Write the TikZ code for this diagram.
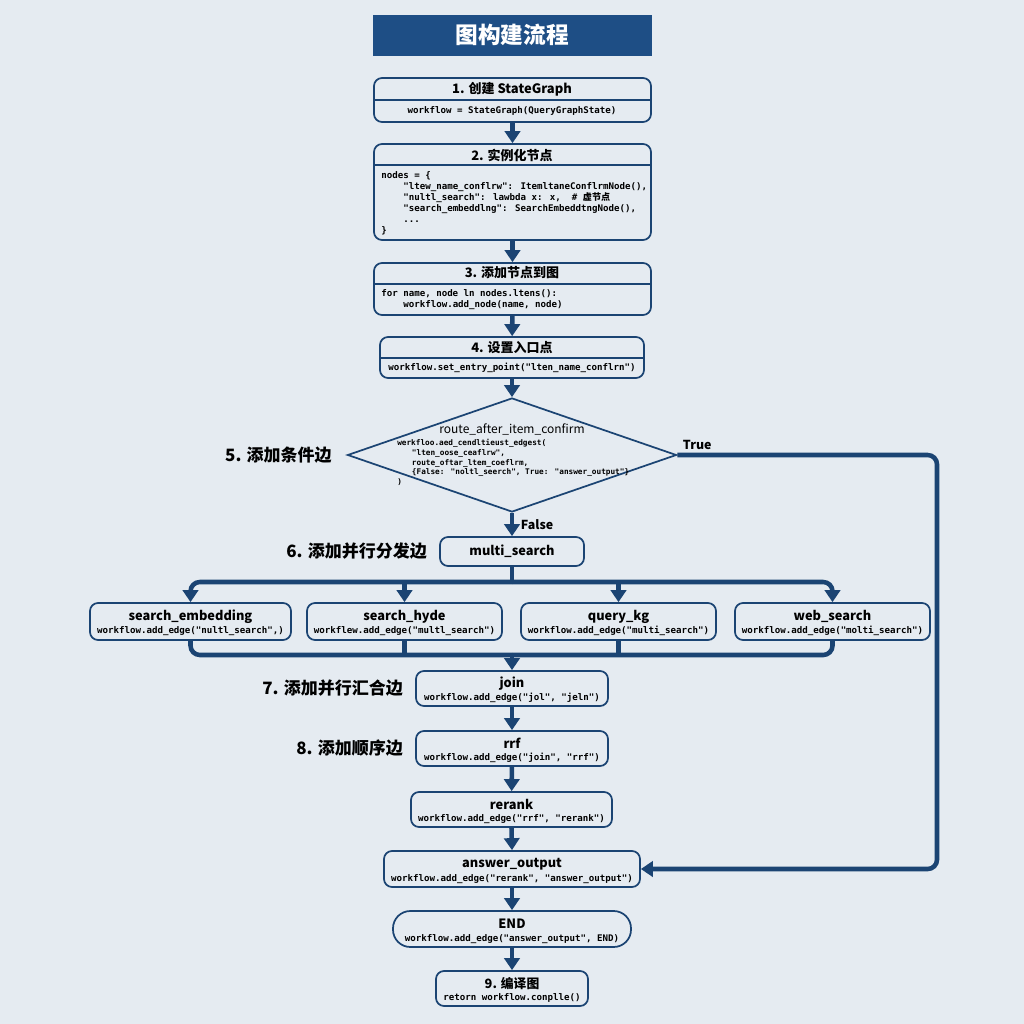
\documentclass[tikz,border=0pt]{standalone}
\usepackage{fontspec}
\usetikzlibrary{arrows.meta,shapes.geometric,positioning,fit}
\newfontfamily\cjk{Noto Sans CJK SC}
\newfontfamily\codef{DejaVu Sans Mono}
\definecolor{bgC}{RGB}{229,235,241}
\definecolor{lineC}{RGB}{27,68,115}
\definecolor{titleC}{RGB}{30,78,133}
\newcommand\ind{\phantom{xxxx}}
\tikzset{
  box/.style={draw=lineC, line width=1.3pt, rounded corners=6pt, fill=bgC, inner sep=0pt},
  titlebox/.style={fill=titleC, draw=titleC, inner sep=0pt},
  headTxt/.style={font=\cjk\bfseries\fontsize{9.75}{11}\selectfont, inner sep=0pt},
  nameTxt/.style={font=\cjk\bfseries\fontsize{9.6}{12}\selectfont, inner sep=0pt},
  codeTxt/.style={font=\codef\bfseries\fontsize{6.85}{8.2}\selectfont, inner sep=0pt, align=left},
  sideTxt/.style={font=\cjk\bfseries\fontsize{12.75}{14}\selectfont, inner sep=0pt},
  flagTxt/.style={font=\cjk\bfseries\fontsize{9.3}{11}\selectfont, inner sep=0pt},
  divider/.style={draw=lineC, line width=1.1pt},
  link/.style={draw=lineC, line width=3.4pt},
  flow/.style={link, -{Triangle[length=9pt,width=11.5pt]}},
}

\begin{document}
\begin{tikzpicture}[x=0.75pt,y=-0.75pt]
        \newcommand\flowBox[6][]{
          \node[box,#1,fit={#3 #4}] (#2) {};
          \node[nameTxt,yshift=3.6pt] (#2-t) at (#2.center) {#5};
          \node[codeTxt,yshift=-7.2pt] (#2-c) at (#2.center) {#6};
        }
        \fill[bgC] (0,0) rectangle (1024,1024);

        % title
        \node[titlebox,fit={(373,15)(651,55)}] (title) {};
        \node[font=\cjk\bfseries\fontsize{17}{20}\selectfont,text=white,inner sep=0pt] (titleTxt) at (title.center) {图构建流程};

        % steps 1-4
        \node[box,fit={(374,78)(651,122)}] (s1) {};
        \draw[divider] (374,100) -- (651,100);
        \node[headTxt] (s1h) at (512,89) {1. 创建 StateGraph};
        \node[codeTxt] (s1c) at (512,110.5) {workflow = StateGraph(QueryGraphState)};

        \node[box,fit={(374,144)(651,240)}] (s2) {};
        \draw[divider] (374,165) -- (651,165);
        \node[headTxt] (s2h) at (512,155) {2. 实例化节点};
        \node[codeTxt,anchor=north west] (s2c) at (381,171.5) {nodes = \{\\
\ind"ltew\_name\_conflrw": ItemltaneConflrmNode(),\\
\ind"nultl\_search": lawbda x: x,\ \ \# {\cjk 虚节点}\\
\ind"search\_embeddlng": SearchEmbeddtngNode(),\\
\ind...\\
\}};

        \node[box,fit={(374,263)(651,315)}] (s3) {};
        \draw[divider] (374,284) -- (651,284);
        \node[headTxt] (s3h) at (512,273) {3. 添加节点到图};
        \node[codeTxt,font=\codef\bfseries\fontsize{6.85}{8.6}\selectfont,anchor=north west] (s3c) at (381,289) {for name, node ln nodes.ltens():\\
\ind workflow.add\_node(name, node)};

        \node[box,fit={(380,337)(644,378)}] (s4) {};
        \draw[divider] (380,358) -- (644,358);
        \node[headTxt] (s4h) at (512,348) {4. 设置入口点};
        \node[codeTxt] (s4c) at (512,368) {workflow.set\_entry\_point("lten\_name\_conflrn")};

        % conditional edge
        \node[draw=lineC,line width=1.3pt,fill=bgC,diamond,minimum width=246.75pt,minimum height=85.5pt,inner sep=0pt] (cond) at (512,455) {};
        \node[nameTxt,font=\cjk\fontsize{9}{11}\selectfont] (condT) at (512,429) {route\_after\_item\_confirm};
        \node[codeTxt,font=\codef\bfseries\fontsize{5.8}{7.35}\selectfont,anchor=north west] (condC) at (397,439) {werkfloo.aed\_cendltieust\_edgest(\\
\hspace*{11pt}"lten\_oose\_ceaflrw",\\
\hspace*{11pt}route\_oftar\_ltem\_coeflrm,\\
\hspace*{11pt}\{False: "noltl\_seerch", True: "answer\_output"\}\\
)};

        % fan out
        \node[box,fit={(440,537)(584,566)}] (multi) {};
        \node[nameTxt] (multiT) at (multi.center) {multi\_search};

        \flowBox{emb}{(90,603)}{(291,640)}{search\_embedding}{workflow.add\_edge("nultl\_search",)}
        \flowBox{hyde}{(307,603)}{(502,640)}{search\_hyde}{workflew.add\_edge("multl\_search")}
        \flowBox{kg}{(521,603)}{(716,640)}{query\_kg}{workflow.add\_edge("multi\_search")}
        \flowBox{web}{(735,603)}{(930,640)}{web\_search}{workflow.add\_edge("molti\_search")}

        % join and sequence
        \flowBox{join}{(416,671)}{(608,706)}{join}{workflow.add\_edge("jol", "jeln")}
        \flowBox{rrf}{(416,731)}{(608,766)}{rrf}{workflow.add\_edge("join", "rrf")}
        \flowBox{rerank}{(411,792)}{(612,827)}{rerank}{workflow.add\_edge("rrf", "rerank")}
        \flowBox{ans}{(384,851)}{(640,887)}{answer\_output}{workflow.add\_edge("rerank", "answer\_output")}
        \flowBox[rounded corners=13pt]{fin}{(393,911)}{(631,947)}{END}{workflow.add\_edge("answer\_output", END)}
        \flowBox{build}{(436,971)}{(588,1006)}{9. 编译图}{retorn workflow.conplle()}

        % side labels
        \node[sideTxt,left=11pt of cond] (lbl5) {5. 添加条件边};
        \node[sideTxt,left=9pt of multi] (lbl6) {6. 添加并行分发边};
        \node[sideTxt,left=9pt of join] (lbl7) {7. 添加并行汇合边};
        \node[sideTxt,left=9pt of rrf] (lbl8) {8. 添加顺序边};

        % connectors
        \draw[flow] (s1) -- (s2);
        \draw[flow] (s2) -- (s3);
        \draw[flow] (s3) -- (s4);
        \draw[flow] (s4.south) -- (cond.north);
        \draw[flow] (cond.south) -- node[flagTxt,right=5pt] (falseLbl) {False} (multi.north);
        \coordinate (trueCorner) at (937,455);
        \draw[flow,rounded corners=7pt] (cond.east) -- (trueCorner) |- (ans.east);
        \node[flagTxt,above right=4pt and 4pt of cond.east] (trueLbl) {True};

        \coordinate (fanY) at (512,582);
        \draw[link] (multi.south) -- (fanY);
        \draw[flow,rounded corners=7pt] (fanY) -| (emb.north);
        \draw[flow,rounded corners=7pt] (fanY) -| (web.north);
        \foreach \n in {hyde,kg} \draw[flow] (\n.north |- fanY) -- (\n.north);

        \coordinate (joinY) at (512,655);
        \draw[link,rounded corners=7pt] (emb.south) |- (joinY);
        \draw[link,rounded corners=7pt] (web.south) |- (joinY);
        \foreach \n in {hyde,kg} \draw[link] (\n.south) -- (\n.south |- joinY);
        \draw[flow] (joinY) -- (join.north);

        \draw[flow] (join) -- (rrf);
        \draw[flow] (rrf) -- (rerank);
        \draw[flow] (rerank.south) -- (ans.north);
        \draw[flow] (ans) -- (fin);
        \draw[flow] (fin) -- (build);
\end{tikzpicture}
\end{document}
